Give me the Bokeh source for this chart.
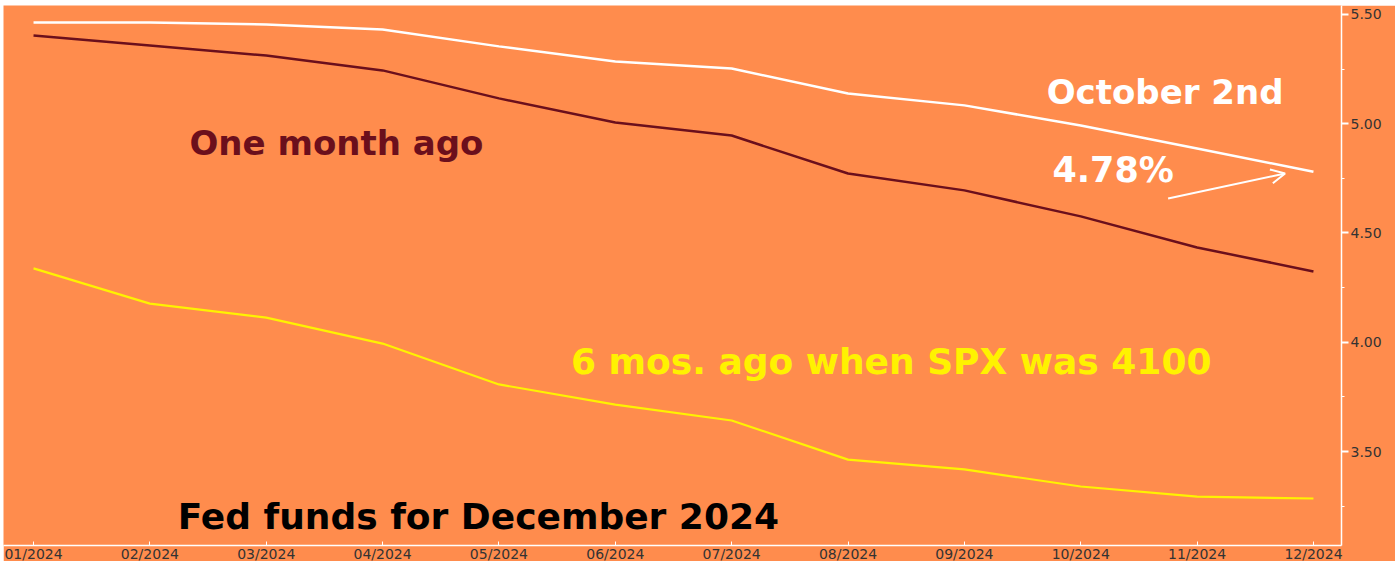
from bokeh.plotting import figure
from bokeh.models import FixedTicker, Label, Arrow, OpenHead, Range1d, Spacer
from bokeh.layouts import column, row
from bokeh.embed import file_html
from bokeh.resources import INLINE

# ---- data ----
months = list(range(1, 13))
month_labels = ["01/2024", "02/2024", "03/2024", "04/2024", "05/2024", "06/2024",
                "07/2024", "08/2024", "09/2024", "10/2024", "11/2024", "12/2024"]
october_2nd = [5.463, 5.463, 5.454, 5.431, 5.354, 5.285, 5.253, 5.138, 5.084, 4.992, 4.887, 4.78]
one_month_ago = [5.404, 5.358, 5.312, 5.244, 5.116, 5.006, 4.946, 4.772, 4.695, 4.576, 4.434, 4.324]
six_months_ago = [4.338, 4.177, 4.113, 3.994, 3.807, 3.715, 3.642, 3.463, 3.418, 3.340, 3.294, 3.285]
y_ticks = [3.5, 4.0, 4.5, 5.0, 5.5]
y_minor = [3.25, 3.75, 4.25, 4.75, 5.25]
y_tick_labels = ["3.50", "4.00", "4.50", "5.00", "5.50"]

BG = "#FF8C4D"
DARK = "#6B0F1C"
YELLOW = "#FFF200"

p = figure(frame_width=1338, frame_height=540, output_backend="svg", toolbar_location=None,
           x_range=Range1d(0.742, 12.241), y_range=Range1d(3.070, 5.541),
           y_axis_location="right",
           min_border_left=0, min_border_top=0, min_border_right=54, min_border_bottom=16)
p.background_fill_color = BG
p.border_fill_color = BG
p.outline_line_color = None
p.grid.visible = False

# x axis
xa = p.xaxis[0]
xa.ticker = FixedTicker(ticks=months)
xa.major_label_overrides = {m: l for m, l in zip(months, month_labels)}
xa.axis_line_color = "white"
xa.axis_line_width = 1.5
xa.major_tick_line_color = "white"
xa.major_tick_in = 4
xa.major_tick_out = 0
xa.minor_tick_line_color = None
xa.major_label_text_font = "DejaVu Sans"
xa.major_label_text_font_size = "14px"
xa.major_label_text_color = "#333333"
xa.major_label_standoff = 0

# y axis (right)
ya = p.yaxis[0]
ya.ticker = FixedTicker(ticks=y_ticks, minor_ticks=y_minor)
ya.major_label_overrides = {t: l for t, l in zip(y_ticks, y_tick_labels)}
ya.axis_line_color = "white"
ya.axis_line_width = 1.5
ya.major_tick_line_color = "white"
ya.major_tick_line_width = 2
ya.major_tick_in = 0
ya.major_tick_out = 7
ya.minor_tick_line_color = "white"
ya.minor_tick_in = 0
ya.minor_tick_out = 3
ya.major_label_text_font = "DejaVu Sans"
ya.major_label_text_font_size = "14px"
ya.major_label_text_color = "#333333"
ya.major_label_standoff = 2

# lines
p.line(months, six_months_ago, line_color=YELLOW, line_width=2.2)
p.line(months, one_month_ago, line_color=DARK, line_width=2.5)
p.line(months, october_2nd, line_color="white", line_width=2.5)

def sx(px):
    return 1 + (px - 33) / 116.4

def sy(py):
    return 5.50 - (py - 14) / 218.5

def lab(txt, cx, cy, color, size):
    p.add_layout(Label(x=sx(cx), y=sy(cy), text=txt, text_color=color,
                       text_font="DejaVu Sans", text_font_style="bold",
                       text_font_size=size, text_align="center", text_baseline="middle"))

lab("One month ago", 336, 143, DARK, "34px")
lab("October 2nd", 1165, 92, "white", "34px")
lab("4.78%", 1113, 170, "white", "35px")
lab("6 mos. ago when SPX was 4100", 891, 361, YELLOW, "36px")
lab("Fed funds for December 2024", 478, 516, "black", "36px")

p.add_layout(Arrow(end=OpenHead(size=14, line_color="white", line_width=2),
                   x_start=sx(1168), y_start=sy(198), x_end=sx(1285), y_end=sy(173),
                   line_color="white", line_width=2))

layout = column(Spacer(height=5), row(Spacer(width=3), p), spacing=0)
open("out.html", "w").write(file_html(layout, INLINE))
